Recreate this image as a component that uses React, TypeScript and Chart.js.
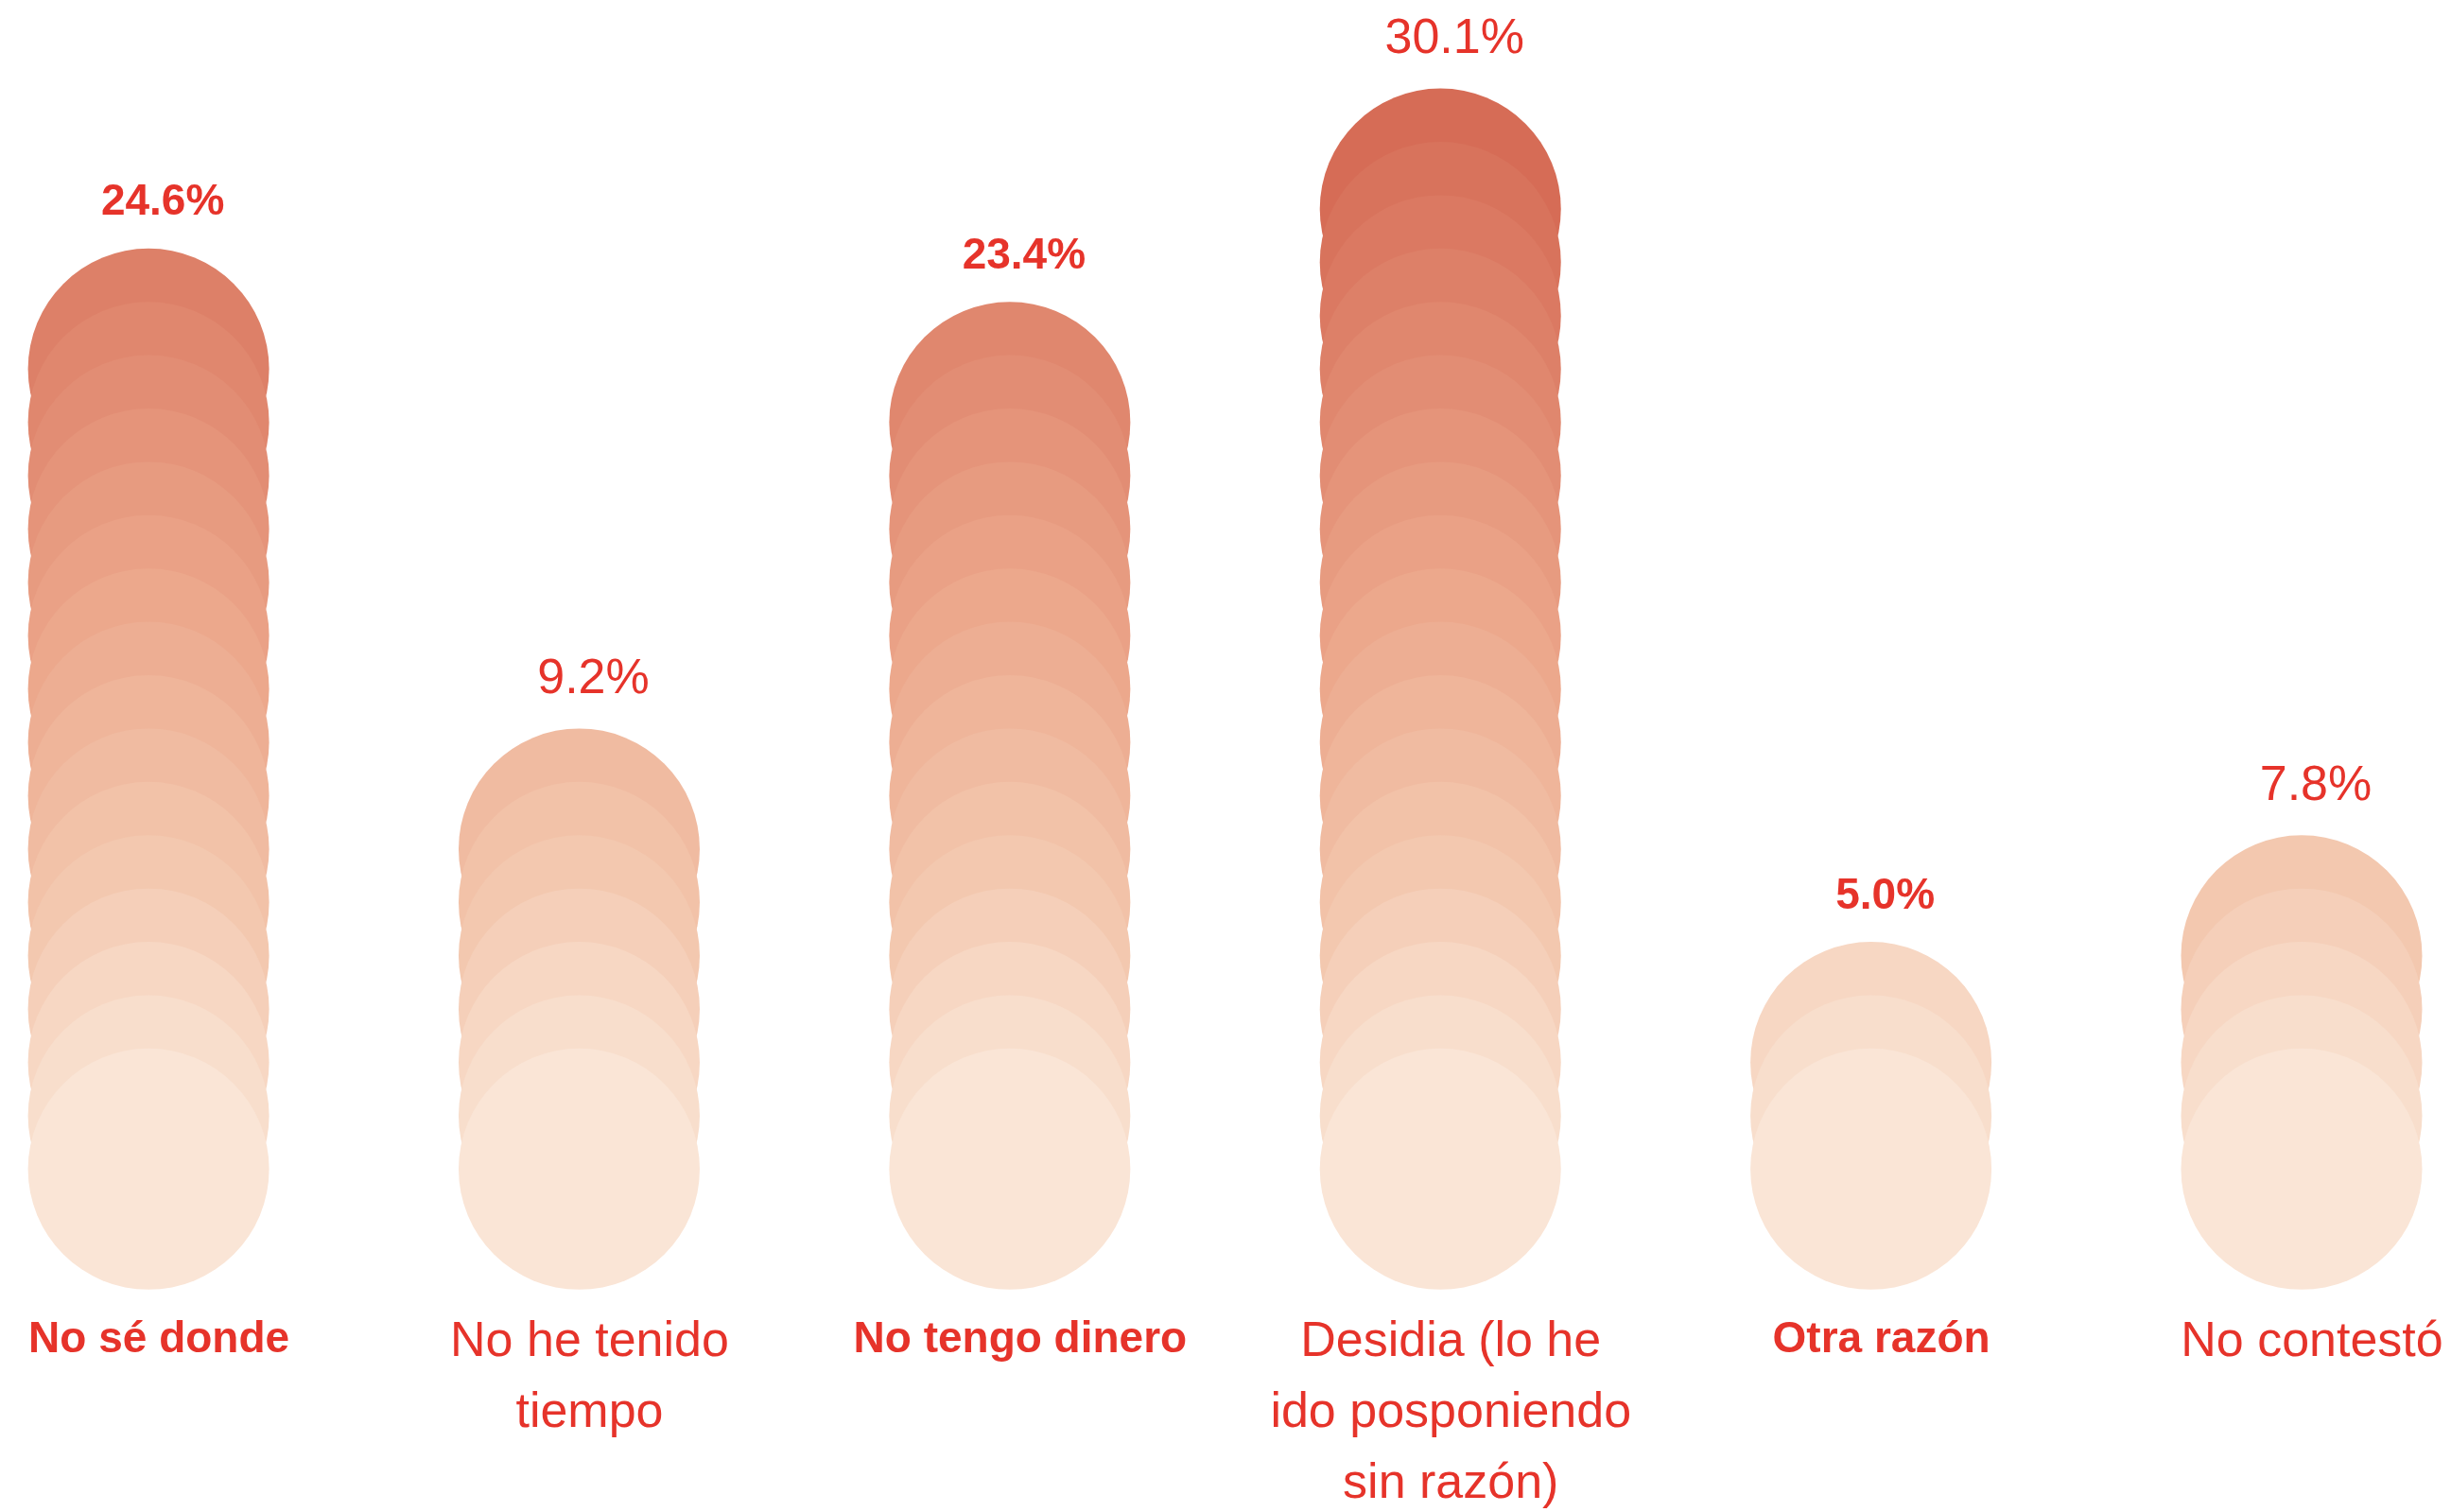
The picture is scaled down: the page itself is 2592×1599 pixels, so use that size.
import React, { useEffect, useRef } from "react";
import { Chart, registerables } from "chart.js";

Chart.register(...registerables);

// ---- data ----
const categoryLines: string[][] = [
  ["No sé donde"],
  ["No he tenido", "tiempo"],
  ["No tengo dinero"],
  ["Desidia (lo he", "ido posponiendo", "sin razón)"],
  ["Otra razón"],
  ["No contestó"],
];
const percentValues: number[] = [24.6, 9.2, 23.4, 30.1, 5.0, 7.8];
// number of stacked circles drawn in each column (counted in the picture)
const circleCounts: number[] = [16, 7, 15, 19, 3, 5];
const percentLabels: string[] = percentValues.map((v) => v.toFixed(1) + "%");

// ---- styles ----
const W = 2592;
const H = 1599;
const RADIUS = 127.5;
const RED = "#e6332a";
const FONT = '"Liberation Sans", Arial, Helvetica, sans-serif';
const shadeStops: [number, number[]][] = [
  [0, [250, 229, 214]],
  [4, [243, 200, 175]],
  [9, [236, 168, 140]],
  [18, [214, 108, 86]],
];

function shade(level: number): string {
  let a = shadeStops[0];
  let b = shadeStops[shadeStops.length - 1];
  for (let i = 0; i < shadeStops.length - 1; i++) {
    if (level >= shadeStops[i][0] && level <= shadeStops[i + 1][0]) {
      a = shadeStops[i];
      b = shadeStops[i + 1];
      break;
    }
  }
  const t = b[0] === a[0] ? 0 : Math.min(1, Math.max(0, (level - a[0]) / (b[0] - a[0])));
  const c = a[1].map((v, k) => Math.round(v + (b[1][k] - v) * t));
  return `rgb(${c[0]},${c[1]},${c[2]})`;
}

const labelPlugin = {
  id: "circleLabels",
  afterDatasetsDraw(chart: any) {
    const ctx = chart.ctx as CanvasRenderingContext2D;
    const xs = chart.scales.x;
    const ys = chart.scales.y;
    ctx.save();
    ctx.fillStyle = RED;
    ctx.textAlign = "center";
    ctx.textBaseline = "middle";
    categoryLines.forEach((lines, i) => {
      const bold = i % 2 === 0;
      const cx = xs.getPixelForValue(i);
      const topY = ys.getPixelForValue(circleCounts[i] - 1) - RADIUS;
      ctx.font = bold ? `bold 46px ${FONT}` : `52px ${FONT}`;
      ctx.fillText(percentLabels[i], cx + 15, topY - (bold ? 48 : 52));
      const baseY = ys.getPixelForValue(0) + RADIUS + (bold ? 53 : 56);
      lines.forEach((line, j) => {
        ctx.fillText(line, cx + 11, baseY + j * 75);
      });
    });
    ctx.restore();
  },
};

export default function App() {
  const ref = useRef<HTMLCanvasElement | null>(null);
  useEffect(() => {
    if (!ref.current) return;
    const datasets = circleCounts.map((count, i) => ({
      label: categoryLines[i].join(" "),
      data: Array.from({ length: count }, (_, j) => ({ x: i, y: count - 1 - j })),
      backgroundColor: (c: any) => shade(c.raw ? c.raw.y : 0),
      borderWidth: 0,
      pointRadius: RADIUS,
      pointHoverRadius: RADIUS,
      pointBorderWidth: 0,
      pointHoverBorderWidth: 0,
      showLine: false,
      clip: false as any,
    }));
    const chart = new Chart(ref.current, {
      type: "scatter",
      data: { datasets },
      options: {
        animation: false,
        responsive: false,
        devicePixelRatio: 1,
        events: [],
        layout: { padding: 0, autoPadding: false },
        plugins: {
          legend: { display: false },
          tooltip: { enabled: false },
          title: { display: false },
        },
        scales: {
          x: { type: "linear", min: -0.345, max: 5.347, display: false },
          y: { type: "linear", min: -6.43, max: 21.92, display: false },
        },
      },
      plugins: [labelPlugin],
    });
    return () => chart.destroy();
  }, []);
  return (
    <div style={{ position: "fixed", left: 0, top: 0, width: W, height: H, background: "#ffffff" }}>
      <canvas ref={ref} width={W} height={H} style={{ display: "block" }} />
    </div>
  );
}
